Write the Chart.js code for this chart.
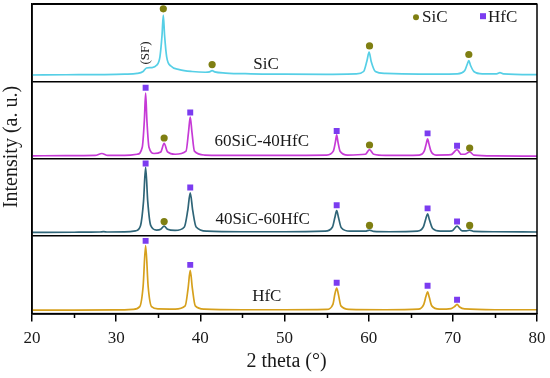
<!DOCTYPE html>
<html>
<head>
<meta charset="utf-8">
<title>XRD patterns</title>
<script src="https://cdn.jsdelivr.net/npm/chart.js@4.4.1/dist/chart.umd.min.js"></script>
<style>
  html, body { margin: 0; padding: 0; background: #fff; }
  canvas { display: block; }
</style>
</head>
<body>
<canvas id="xrdChart" width="550" height="378"></canvas>
<script>
// sample names, top panel first
const samples = ['SiC', '60SiC-40HfC', '40SiC-60HfC', 'HfC'];

// patterns: [2 theta, intensity inside its own panel (0..1)]
const sicPattern = [
  [20, 0.085], [24, 0.088], [28, 0.09], [31, 0.095], [32.5, 0.105], [33.2, 0.13], [33.6, 0.175],
  [34.2, 0.18], [34.8, 0.21], [35.2, 0.32], [35.45, 0.6], [35.6, 0.86], [35.75, 0.6], [36.0, 0.32],
  [36.5, 0.2], [37.5, 0.155], [39, 0.13], [40.6, 0.12], [41.1, 0.125], [41.4, 0.14], [41.7, 0.125],
  [43, 0.11], [46, 0.1], [50, 0.095], [55, 0.092], [58.5, 0.098], [59.4, 0.13], [59.8, 0.27],
  [60.05, 0.38], [60.3, 0.26], [60.8, 0.13], [62, 0.105], [66, 0.095], [70.5, 0.1], [71.4, 0.14],
  [71.7, 0.22], [71.9, 0.27], [72.1, 0.21], [72.5, 0.13], [73.5, 0.1], [75.2, 0.1], [75.6, 0.115],
  [76, 0.1], [80, 0.09]
];
const sic60Pattern = [
  [20, 0.04], [24, 0.042], [27.5, 0.045], [28.3, 0.07], [29, 0.045], [31, 0.045], [32.5, 0.06],
  [33.1, 0.15], [33.35, 0.5], [33.5, 0.85], [33.65, 0.5], [33.9, 0.15], [34.5, 0.07], [35.3, 0.09],
  [35.7, 0.2], [36.1, 0.09], [37, 0.06], [38.3, 0.1], [38.6, 0.35], [38.8, 0.54], [39.0, 0.35],
  [39.3, 0.1], [40.5, 0.05], [45, 0.045], [50, 0.045], [55, 0.05], [55.8, 0.1], [56.05, 0.22],
  [56.2, 0.31], [56.35, 0.22], [56.6, 0.1], [57.5, 0.05], [59.6, 0.06], [60.1, 0.12], [60.6, 0.06],
  [62, 0.045], [66.0, 0.05], [66.6, 0.1], [66.85, 0.2], [67.0, 0.26], [67.15, 0.2], [67.4, 0.1],
  [68, 0.05], [69.8, 0.055], [70.5, 0.12], [71.0, 0.06], [71.4, 0.06], [72.0, 0.09], [72.5, 0.05],
  [75, 0.04], [80, 0.035]
];
const sic40Pattern = [
  [20, 0.05], [25, 0.052], [28, 0.055], [28.5, 0.06], [29, 0.055], [31, 0.056], [32.3, 0.07],
  [32.9, 0.14], [33.25, 0.45], [33.5, 0.89], [33.75, 0.45], [34.1, 0.14], [34.8, 0.08], [35.3, 0.09],
  [35.7, 0.13], [36.1, 0.09], [37, 0.075], [38.1, 0.12], [38.5, 0.33], [38.8, 0.56], [39.1, 0.33],
  [39.5, 0.12], [40.8, 0.065], [45, 0.058], [50, 0.058], [54.8, 0.065], [55.7, 0.12], [56.0, 0.25],
  [56.2, 0.33], [56.4, 0.25], [56.75, 0.11], [57.8, 0.065], [59.6, 0.065], [60.1, 0.08], [60.6, 0.062],
  [62.5, 0.058], [65.8, 0.065], [66.5, 0.12], [66.8, 0.23], [67.0, 0.29], [67.2, 0.22], [67.6, 0.1],
  [68.5, 0.065], [69.9, 0.07], [70.5, 0.13], [71.1, 0.07], [71.6, 0.07], [72.0, 0.08], [72.5, 0.062],
  [75, 0.058], [80, 0.055]
];
const hfcPattern = [
  [20, 0.045], [25, 0.046], [30, 0.048], [32, 0.055], [32.8, 0.09], [33.2, 0.35], [33.5, 0.88],
  [33.8, 0.35], [34.2, 0.09], [35, 0.06], [37, 0.058], [38.2, 0.1], [38.55, 0.33], [38.8, 0.56],
  [39.05, 0.33], [39.4, 0.1], [40.5, 0.058], [45, 0.05], [50, 0.05], [55, 0.055], [55.75, 0.12],
  [56.0, 0.26], [56.2, 0.33], [56.4, 0.25], [56.7, 0.1], [57.7, 0.055], [62, 0.05], [65.9, 0.058],
  [66.55, 0.12], [66.8, 0.22], [67.0, 0.28], [67.2, 0.21], [67.5, 0.1], [68.4, 0.058], [69.8, 0.065],
  [70.2, 0.09], [70.5, 0.12], [70.8, 0.085], [71.4, 0.06], [75, 0.05], [80, 0.05]
];

// phase markers above the peaks, same panel units
const sicMarksSiC = [[35.6, 0.94], [41.4, 0.22], [60.1, 0.46], [71.9, 0.35]];
const sicMarks60 = [[35.7, 0.27], [60.1, 0.18], [72.0, 0.14]];
const hfcMarks60 = [[33.5, 0.92], [38.8, 0.60], [56.2, 0.36], [67.0, 0.33], [70.5, 0.17]];
const sicMarks40 = [[35.7, 0.19], [60.1, 0.14], [72.0, 0.14]];
const hfcMarks40 = [[33.5, 0.94], [38.8, 0.63], [56.2, 0.40], [67.0, 0.36], [70.5, 0.19]];
const hfcMarksHfC = [[33.5, 0.94], [38.8, 0.63], [56.2, 0.40], [67.0, 0.36], [70.5, 0.18]];

// unlabelled half-step ticks on the 2 theta axis
const minorTicks = [25, 35, 45, 55, 65, 75];

const lineColors = ['#56cfe6', '#c63ad6', '#2f6578', '#d6a01c'];
const sicColor = '#7f7f12';
const hfcColor = '#7b3cf0';
const serif = '"Liberation Serif", "Times New Roman", serif';

// shift panel values up to their slot (top panel = 3)
function toPoints(pairs, slot) {
  return pairs.map(p => ({ x: p[0], y: p[1] + slot }));
}

const patterns = [sicPattern, sic60Pattern, sic40Pattern, hfcPattern];
const datasets = [];

patterns.forEach((pat, i) => {
  datasets.push({
    label: samples[i],
    data: toPoints(pat, 3 - i),
    borderColor: lineColors[i],
    borderWidth: 1.7,
    pointRadius: 0,
    cubicInterpolationMode: 'monotone',
    fill: false,
    order: 1
  });
});

function markSet(pairs, slot, isSiC) {
  return {
    type: 'scatter',
    data: toPoints(pairs, slot),
    pointStyle: isSiC ? 'circle' : 'rect',
    pointRadius: isSiC ? 3.6 : 4.2,
    backgroundColor: isSiC ? sicColor : hfcColor,
    borderWidth: 0,
    order: 0
  };
}
datasets.push(markSet(sicMarksSiC, 3, true));
datasets.push(markSet(sicMarks60, 2, true));
datasets.push(markSet(hfcMarks60, 2, false));
datasets.push(markSet(sicMarks40, 1, true));
datasets.push(markSet(hfcMarks40, 1, false));
datasets.push(markSet(hfcMarksHfC, 0, false));

// frame, minor ticks, sample names, (SF) note, legend, axis titles
const decor = {
  id: 'decor',
  afterDatasetsDraw(chart) {
    const { ctx, chartArea: a, scales: { x, y } } = chart;
    ctx.save();
    ctx.strokeStyle = '#000';
    ctx.lineWidth = 1.5;
    ctx.strokeRect(a.left, a.top, a.right - a.left, a.bottom - a.top);

    ctx.beginPath();
    minorTicks.forEach(v => {
      const px = Math.round(x.getPixelForValue(v)) + 0.5;
      ctx.moveTo(px, a.bottom);
      ctx.lineTo(px, a.bottom + 4.5);
    });
    ctx.stroke();

    ctx.fillStyle = '#1a1a1a';
    ctx.textAlign = 'center';
    ctx.textBaseline = 'middle';
    ctx.font = '17px ' + serif;
    const nameAt = [47.8, 47.3, 47.4, 47.9];
    samples.forEach((name, i) => {
      ctx.fillText(name, x.getPixelForValue(nameAt[i]), y.getPixelForValue(3 - i + 0.22));
    });

    // stacking fault shoulder note
    ctx.save();
    ctx.translate(x.getPixelForValue(33.45), y.getPixelForValue(3.37));
    ctx.rotate(-Math.PI / 2);
    ctx.font = '13px ' + serif;
    ctx.fillText('(SF)', 0, 0);
    ctx.restore();

    // legend
    ctx.textAlign = 'left';
    ctx.font = '17px ' + serif;
    ctx.fillStyle = sicColor;
    ctx.beginPath();
    ctx.arc(a.right - 121, a.top + 13, 3, 0, Math.PI * 2);
    ctx.fill();
    ctx.fillStyle = hfcColor;
    ctx.fillRect(a.right - 57, a.top + 9, 6, 6);
    ctx.fillStyle = '#1a1a1a';
    ctx.fillText('SiC', a.right - 115, a.top + 13);
    ctx.fillText('HfC', a.right - 49, a.top + 13);

    // axis titles
    ctx.textAlign = 'center';
    ctx.font = '20px ' + serif;
    ctx.fillText('2 theta (°)', (a.left + a.right) / 2 + 2, 362);
    ctx.save();
    ctx.translate(12, 147);
    ctx.rotate(-Math.PI / 2);
    ctx.fillText('Intensity (a. u.)', 0, 0);
    ctx.restore();

    ctx.restore();
  }
};

new Chart(document.getElementById('xrdChart'), {
  type: 'line',
  data: { datasets: datasets },
  plugins: [decor],
  options: {
    responsive: false,
    animation: false,
    layout: { padding: { left: 32, right: 13, top: 4, bottom: 26 } },
    plugins: { legend: { display: false }, tooltip: { enabled: false } },
    scales: {
      x: {
        type: 'linear',
        min: 20,
        max: 80,
        ticks: {
          stepSize: 10,
          padding: 3,
          color: '#1a1a1a',
          font: { family: serif, size: 17 },
          maxRotation: 0
        },
        // long tick slot pushes the labels down, the dash keeps the visible mark short
        grid: { drawOnChartArea: false, color: '#000', tickLength: 12, tickBorderDash: [7, 40], lineWidth: 1.5 },
        border: { color: '#000', width: 1.5 }
      },
      y: {
        min: 0,
        max: 4,
        ticks: { display: false, stepSize: 1 },
        grid: { color: '#000', lineWidth: 1.5, drawTicks: false },
        border: { color: '#000', width: 1.5 }
      }
    }
  }
});
</script>
</body>
</html>
